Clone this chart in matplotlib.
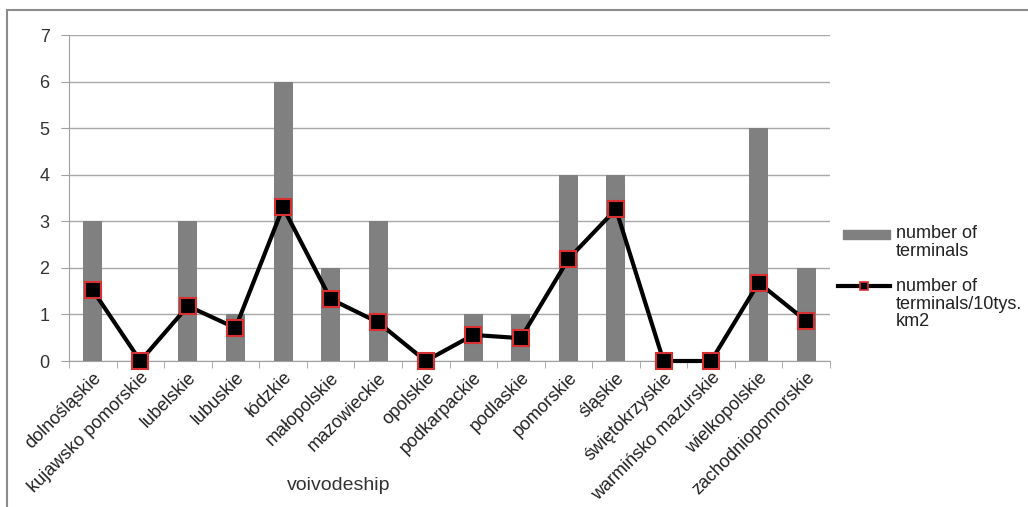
import numpy as np
import matplotlib.pyplot as plt
from matplotlib.patches import Rectangle
from matplotlib.lines import Line2D

plt.rcParams['font.family'] = ['Liberation Sans', 'DejaVu Sans']

# data
voivodeships = ['dolnośląskie', 'kujawsko pomorskie', 'lubelskie', 'lubuskie',
                'łódzkie', 'małopolskie', 'mazowieckie', 'opolskie',
                'podkarpackie', 'podlaskie', 'pomorskie', 'śląskie',
                'świętokrzyskie', 'warmińsko mazurskie', 'wielkopolskie',
                'zachodniopomorskie']
terminals = [3, 0, 3, 1, 6, 2, 3, 0, 1, 1, 4, 4, 0, 0, 5, 2]
density = [1.52, 0.0, 1.18, 0.71, 3.30, 1.33, 0.83, 0.0,
           0.56, 0.49, 2.19, 3.26, 0.0, 0.0, 1.68, 0.86]
yticks = [0, 1, 2, 3, 4, 5, 6, 7]

BAR = '#808080'
EDGE = '#d83030'

fig = plt.figure(figsize=(10.28, 5.07), dpi=100)
W, H = 1028, 507
ax = fig.add_axes([69 / W, 1 - 361 / H, (830 - 69) / W, (361 - 35) / H])

# outer chart border
fig.patches.append(Rectangle((7 / W, -0.05), 1.1, 1 - 10 / H + 0.05,
                             transform=fig.transFigure, fill=False,
                             edgecolor='#8c8c8c', linewidth=1.5))

x = np.arange(len(voivodeships))
ax.bar(x, terminals, width=0.4, color=BAR, zorder=2)
ax.plot(x, density, color='black', linewidth=3, marker='s', markersize=11,
        markerfacecolor='black', markeredgecolor=EDGE, markeredgewidth=1.5,
        zorder=3, clip_on=False)

ax.set_xlim(-0.5, len(voivodeships) - 0.5)
ax.set_ylim(0, 7)
ax.set_yticks(yticks)
ax.yaxis.grid(True, color='#a8a8a8', linewidth=1)
ax.set_axisbelow(True)
for s in ['top', 'right']:
    ax.spines[s].set_visible(False)
for s in ['left', 'bottom']:
    ax.spines[s].set_color('#a0a0a0')
ax.tick_params(axis='y', colors='#a0a0a0', labelcolor='#333333', labelsize=13,
               length=6, pad=8)
ax.set_xticks(x)
ax.set_xticklabels(voivodeships, rotation=45, ha='right',
                   rotation_mode='anchor', fontsize=13, color='#222222')
ax.tick_params(axis='x', length=0, pad=6)
ax.set_xticks(np.arange(-0.5, len(voivodeships)), minor=True)
ax.tick_params(axis='x', which='minor', length=5, color='#a0a0a0')

fig.text(339 / W, 1 - 485 / H, 'voivodeship', ha='center', va='center',
         fontsize=14, color='#333333')

# legend, handles aligned with the first text line as in the original
fig.patches.append(Rectangle((843 / W, 1 - 239 / H), 47 / W, 9 / H,
                             transform=fig.transFigure, color=BAR))
fig.lines.append(Line2D([838 / W, 890 / W], [1 - 286 / H, 1 - 286 / H],
                        transform=fig.transFigure, color='black', linewidth=3))
fig.lines.append(Line2D([864 / W], [1 - 286 / H], transform=fig.transFigure,
                        marker='s', markersize=6, markerfacecolor='black',
                        markeredgecolor=EDGE, markeredgewidth=1.2))
fig.text(896 / W, 1 - 225 / H, 'number of\nterminals', ha='left', va='top',
         fontsize=13, color='#222222', linespacing=1.05)
fig.text(896 / W, 1 - 278 / H, 'number of\nterminals/10tys.\nkm2', ha='left',
         va='top', fontsize=13, color='#222222', linespacing=1.05)

fig.savefig('out.png', dpi=100)
